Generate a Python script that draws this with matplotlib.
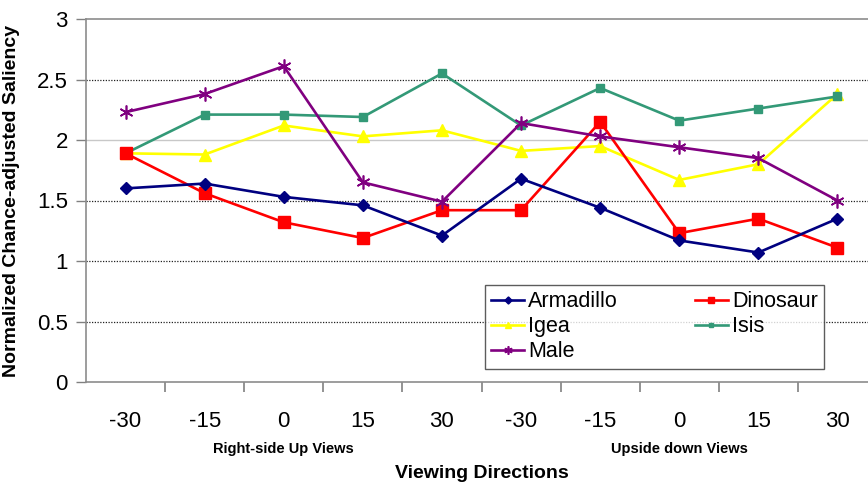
import numpy as np
import matplotlib.pyplot as plt
from matplotlib.transforms import blended_transform_factory

plt.rcParams['font.family'] = ['Liberation Sans', 'DejaVu Sans']

views = ['-30', '-15', '0', '15', '30', '-30', '-15', '0', '15', '30']
groups = ['Right-side Up Views', 'Upside down Views']

armadillo = [1.60, 1.64, 1.53, 1.46, 1.21, 1.68, 1.44, 1.17, 1.07, 1.35]
dinosaur = [1.89, 1.56, 1.32, 1.19, 1.42, 1.42, 2.15, 1.23, 1.35, 1.11]
igea = [1.89, 1.88, 2.12, 2.03, 2.08, 1.91, 1.95, 1.67, 1.80, 2.38]
isis = [1.89, 2.21, 2.21, 2.19, 2.55, 2.12, 2.43, 2.16, 2.26, 2.36]
male = [2.23, 2.38, 2.61, 1.65, 1.49, 2.14, 2.03, 1.94, 1.85, 1.50]

fig = plt.figure(figsize=(8.68, 4.83), dpi=100)
ax = fig.add_axes([86/868, 1 - 382/483, 791/868, 363/483])

x = np.arange(len(views))
lw = 1.9
l_arm, = ax.plot(x, armadillo, color='#000080', marker='D', ms=6, lw=lw, label='Armadillo', zorder=5)
l_din, = ax.plot(x, dinosaur, color='#ff0000', marker='s', ms=8, lw=lw, label='Dinosaur', zorder=4)
l_ige, = ax.plot(x, igea, color='#ffff00', marker='^', ms=8, lw=lw, label='Igea', zorder=3)
l_isi, = ax.plot(x, isis, color='#339977', marker='s', ms=5.5, lw=lw, label='Isis', zorder=3)
l_mal, = ax.plot(x, male, color='#800080', marker=(6, 2, 0), ms=10, mew=1.2, lw=lw, label='Male', zorder=4)

# gridlines
for v in [0.5, 1, 1.5, 2.5]:
    ax.axhline(v, color='#222222', lw=0.9, ls=(0, (1, 1.2)), zorder=1)
ax.axhline(2, color='#c8c8c8', lw=1.0, zorder=1)

ax.set_xlim(-0.5, 9.5)
ax.set_ylim(0, 3)
ax.set_yticks(np.arange(0, 3.01, 0.5))
ax.set_yticklabels(['%g' % t for t in np.arange(0, 3.01, 0.5)])
ax.set_xticks(x)
ax.set_xticklabels(views)
ax.set_xticks(np.arange(0.5, 9, 1), minor=True)
ax.tick_params(axis='x', which='major', length=0, pad=21, labelsize=16)
ax.tick_params(axis='x', which='minor', length=7, width=1.2, color='#808080', direction='out')
ax.tick_params(axis='y', length=7, width=1, color='#808080', pad=6, labelsize=16)

for side in ['left', 'bottom', 'top']:
    ax.spines[side].set_color('#8c8c8c')
    ax.spines[side].set_linewidth(1.2)
ax.spines['right'].set_visible(False)

ax.set_ylabel('Normalized Chance-adjusted Saliency', fontsize=14, fontweight='bold')
ax.yaxis.set_label_coords((20 - 86)/791, 0.5)

tr = blended_transform_factory(ax.transData, ax.transAxes)
ax.text(2, (382 - 449)/363, groups[0], transform=tr, ha='center', va='center',
        fontsize=10.5, fontweight='bold')
ax.text(7, (382 - 449)/363, groups[1], transform=tr, ha='center', va='center',
        fontsize=10.5, fontweight='bold')
ax.text(4.5, (382 - 473)/363, 'Viewing Directions', transform=tr, ha='center', va='center',
        fontsize=14, fontweight='bold')

handles = [l_arm, l_ige, l_mal, l_din, l_isi]
leg = ax.legend(handles=handles, labels=[h.get_label() for h in handles], ncol=2,
                loc='upper left', bbox_to_anchor=((485 - 86)/791, (382 - 285)/363),
                fontsize=15.5, frameon=True, fancybox=False, handlelength=1.5,
                handletextpad=0.2, labelspacing=0.18, columnspacing=3.6,
                borderpad=0.3, markerscale=0.6, borderaxespad=0)
leg.get_frame().set_edgecolor('#333333')
leg.get_frame().set_linewidth(1.0)
leg.set_zorder(10)

fig.savefig('out.png', dpi=100)
